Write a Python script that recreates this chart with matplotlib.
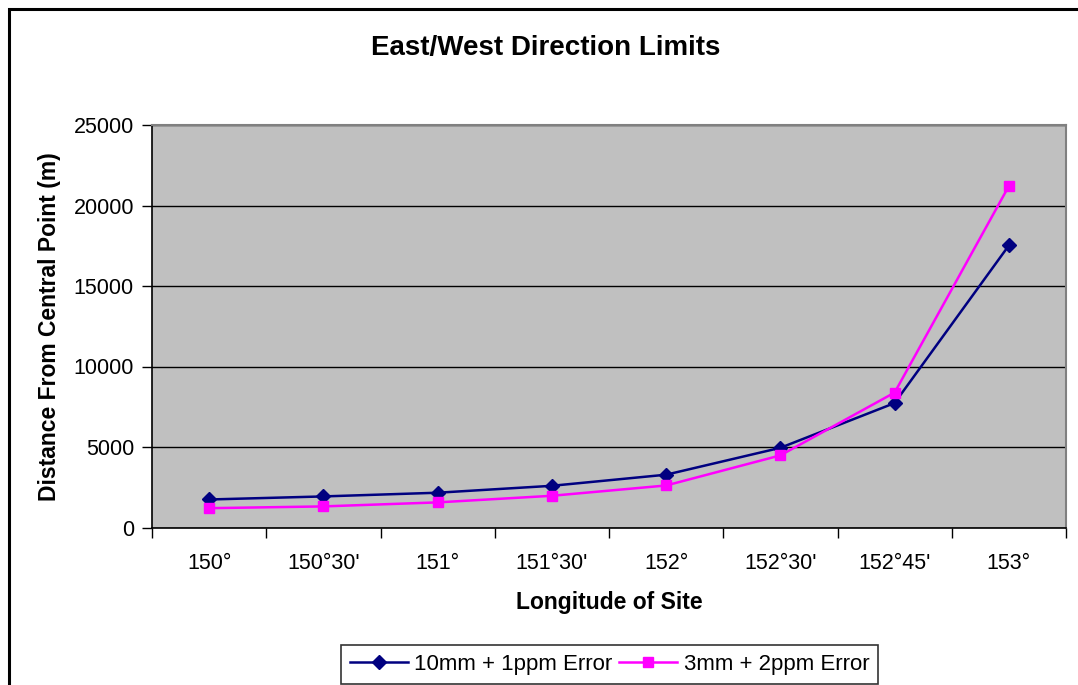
import matplotlib
matplotlib.use("Agg")
import matplotlib.pyplot as plt
from matplotlib.patches import Rectangle
from matplotlib.ticker import FixedLocator, NullFormatter

plt.rcParams['font.family'] = ['Liberation Sans', 'DejaVu Sans']

longitudes = ["150°", "150°30'", "151°", "151°30'", "152°", "152°30'", "152°45'", "153°"]
series_1ppm = [1740, 1930, 2160, 2590, 3280, 4950, 7730, 17520]
series_2ppm = [1200, 1310, 1560, 1970, 2610, 4480, 8380, 21210]
label_1ppm = "10mm + 1ppm Error"
label_2ppm = "3mm + 2ppm Error"
y_ticks = [0, 5000, 10000, 15000, 20000, 25000]

W, H = 1078, 685
fig = plt.figure(figsize=(W / 100, H / 100), dpi=100)
fig.patch.set_facecolor("white")

# outer chart border
fig.patches.append(Rectangle((9 / W, -0.05), 1.2, 1 - 9 / H + 0.05, transform=fig.transFigure,
                             fill=False, edgecolor="black", linewidth=2.2, zorder=0))

ax = fig.add_axes([152 / W, 1 - 527.5 / H, (1066 - 152) / W, (527.5 - 125) / H])
ax.set_facecolor("#C0C0C0")

x = list(range(len(longitudes)))
ax.plot(x, series_1ppm, color="#000080", linewidth=1.8, marker="D", markersize=7,
        markerfacecolor="#000080", markeredgecolor="#000080", label=label_1ppm, zorder=3)
ax.plot(x, series_2ppm, color="#FF00FF", linewidth=1.8, marker="s", markersize=7.5,
        markerfacecolor="#FF00FF", markeredgecolor="#FF00FF", label=label_2ppm, zorder=3)

ax.set_xlim(-0.5, len(longitudes) - 0.5)
ax.set_ylim(0, 25000)
ax.set_yticks(y_ticks)
ax.set_yticklabels([str(v) for v in y_ticks])
ax.yaxis.grid(True, color="black", linewidth=1.0)
ax.set_axisbelow(True)

# category ticks sit between categories, labels at centres
ax.xaxis.set_major_locator(FixedLocator([i - 0.5 for i in range(len(longitudes) + 1)]))
ax.xaxis.set_major_formatter(NullFormatter())
ax.xaxis.set_minor_locator(FixedLocator(x))
ax.set_xticklabels(longitudes, minor=True)
ax.tick_params(axis="x", which="major", direction="out", length=7, width=1, color="black")
ax.tick_params(axis="x", which="minor", length=0, pad=18.5, labelsize=15.5)
ax.tick_params(axis="y", direction="out", length=7, width=1, pad=6, labelsize=15.5)

for side in ("top", "right"):
    ax.spines[side].set_color("#808080")
    ax.spines[side].set_linewidth(1.5)
for side in ("left", "bottom"):
    ax.spines[side].set_color("black")
    ax.spines[side].set_linewidth(1.2)

fig.text(546 / W, 1 - 48 / H, "East/West Direction Limits", ha="center", va="center",
         fontsize=20, fontweight="bold")
ax.set_xlabel("Longitude of Site", fontsize=16.5, fontweight="bold", labelpad=12)
ax.set_ylabel("Distance From Central Point (m)", fontsize=16.5, fontweight="bold", labelpad=9)

leg = ax.legend(loc="upper center", bbox_to_anchor=(609.5 / W, 1 - 645 / H),
                bbox_transform=fig.transFigure, ncol=2, frameon=True, fancybox=False,
                edgecolor="black", fontsize=16, handlelength=2.6, columnspacing=0.3,
                handletextpad=0.3, borderpad=0.4, borderaxespad=0)
leg.get_frame().set_linewidth(1.2)

fig.savefig("out.png", dpi=100)
